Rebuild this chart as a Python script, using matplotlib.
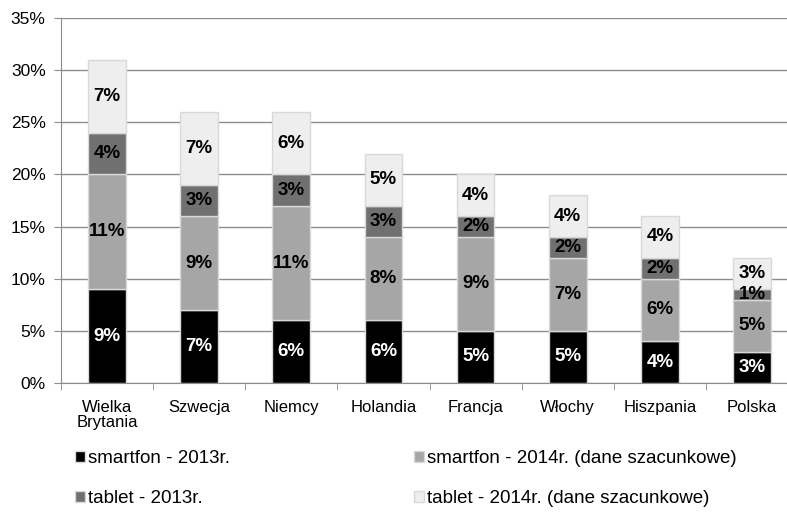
import matplotlib
matplotlib.use("Agg")
import matplotlib.pyplot as plt
import numpy as np
from matplotlib.ticker import FuncFormatter, FixedLocator

plt.rcParams["font.family"] = ["Liberation Sans", "DejaVu Sans"]

countries = ["Wielka\nBrytania", "Szwecja", "Niemcy", "Holandia", "Francja",
             "Włochy", "Hiszpania", "Polska"]
smart_2013 = [9, 7, 6, 6, 5, 5, 4, 3]
smart_2014 = [11, 9, 11, 8, 9, 7, 6, 5]
tablet_2013 = [4, 3, 3, 3, 2, 2, 2, 1]
tablet_2014 = [7, 7, 6, 5, 4, 4, 4, 3]

series = [
    ("smartfon - 2013r.", smart_2013, "#000000", "white"),
    ("smartfon - 2014r. (dane szacunkowe)", smart_2014, "#a6a6a6", "black"),
    ("tablet - 2013r.", tablet_2013, "#707070", "black"),
    ("tablet - 2014r. (dane szacunkowe)", tablet_2014, "#eeeeee", "black"),
]

fig = plt.figure(figsize=(7.87, 5.12), dpi=100)
ax = fig.add_axes([61 / 787, 0.252, 1 - 61 / 787, 0.713])

x = np.arange(len(countries))
bottom = np.zeros(len(countries))
handles = {}
for name, vals, col, tcol in series:
    vals = np.array(vals, dtype=float)
    bars = ax.bar(x, vals, 0.41, bottom=bottom, color=col,
                  edgecolor="#d9d9d9", linewidth=1.0, zorder=3)
    handles[name] = bars
    for xi, b, v in zip(x, bottom, vals):
        ax.text(xi, b + v / 2, f"{int(v)}%", ha="center", va="center",
                fontsize=13.5, fontweight="bold", color=tcol, zorder=4)
    bottom += vals

ax.set_ylim(0, 35)
ax.set_xlim(-0.5, 7.5 - 11 / 92)
ax.set_yticks(np.arange(0, 36, 5))
ax.yaxis.set_major_formatter(FuncFormatter(lambda v, p: f"{int(v)}%"))
ax.yaxis.grid(True, color="#8c8c8c", linewidth=1.0, zorder=0)
ax.set_axisbelow(True)

ax.set_xticks(x)
ax.set_xticklabels(countries, fontsize=12, linespacing=1.05)
ax.xaxis.set_minor_locator(FixedLocator(np.arange(-0.5, 8, 1)))
ax.tick_params(axis="x", which="major", length=0, pad=12)
ax.tick_params(axis="x", which="minor", length=5, color="#8c8c8c")
ax.tick_params(axis="y", length=5, color="#8c8c8c", labelsize=12.5, pad=6)

for s in ["top", "right"]:
    ax.spines[s].set_visible(False)
ax.spines["left"].set_color("#8c8c8c")
ax.spines["bottom"].set_color("#8c8c8c")

order = ["smartfon - 2013r.", "tablet - 2013r.",
         "smartfon - 2014r. (dane szacunkowe)", "tablet - 2014r. (dane szacunkowe)"]
leg = fig.legend([handles[n] for n in order], order, loc="lower left",
                 bbox_to_anchor=(58 / 787, -0.024), ncol=2, frameon=False,
                 fontsize=13.5, handlelength=0.55, handleheight=0.55,
                 handletextpad=0.15, columnspacing=9.8, labelspacing=1.25)

fig.savefig("out.png", dpi=100)
